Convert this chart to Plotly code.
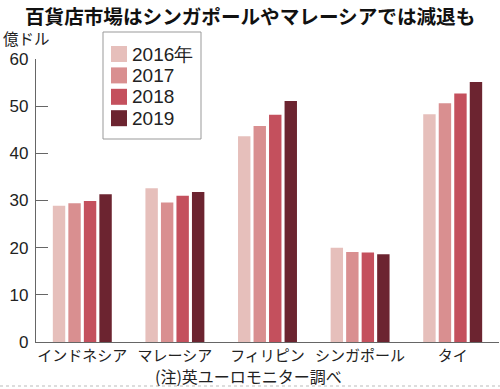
import plotly.graph_objects as go

categories = ["インドネシア", "マレーシア", "フィリピン", "シンガポール", "タイ"]
years = ["2016年", "2017", "2018", "2019"]
v2016 = [28.9, 32.6, 43.6, 20.0, 48.3]
v2017 = [29.4, 29.6, 45.8, 19.1, 50.6]
v2018 = [29.9, 31.0, 48.2, 19.0, 52.7]
v2019 = [31.3, 31.8, 51.1, 18.6, 55.1]
series = [v2016, v2017, v2018, v2019]
colors = ["#e6bfbb", "#d98f90", "#c4505d", "#6c2430"]
y_ticks = [0, 10, 20, 30, 40, 50, 60]

jp = "Noto Sans CJK JP"
num = "Liberation Sans"

W, H = 500, 389
L, R, T, B = 36, 1, 59, 47
pw, ph = W - L - R, H - T - B


def px(x):
    return (x - L) / pw


def py(y):
    return (H - B - y) / ph


fig = go.Figure()
for name, vals, c in zip(years, series, colors):
    fig.add_trace(go.Bar(x=categories, y=vals, name=name,
                         marker=dict(color=c, line=dict(width=0)), showlegend=False,
                         hoverinfo="skip"))

fig.update_layout(
    width=W, height=H,
    margin=dict(l=L, r=R, t=T, b=B, autoexpand=False),
    paper_bgcolor="white", plot_bgcolor="white",
    barmode="group", bargap=0.33, bargroupgap=0.2,
    font=dict(family=jp, color="#222"),
)
fig.update_xaxes(
    showline=True, linecolor="#666", linewidth=1.2,
    ticks="", tickfont=dict(family=jp, size=15, color="#222"),
    range=[-0.5, 4.5], fixedrange=True,
)
fig.update_yaxes(
    range=[0, 60], tickvals=y_ticks, ticktext=[str(t) for t in y_ticks],
    showline=True, linecolor="#666", linewidth=1.2,
    ticks="inside", ticklen=12, tickcolor="#666", tickwidth=1.2,
    showgrid=False, zeroline=False, fixedrange=True,
    tickfont=dict(family=num, size=17, color="#222"),
    ticklabelstandoff=3,
)

# title
fig.add_annotation(text="<b>百貨店市場はシンガポールやマレーシアでは減退も</b>",
                   xref="paper", yref="paper", x=px(250), y=py(15),
                   xanchor="center", yanchor="middle", showarrow=False,
                   font=dict(family=jp, size=19.6, color="#111"))

# legend (box, swatches, labels)
fig.add_shape(type="rect", xref="paper", yref="paper",
              x0=px(103), x1=px(201), y0=py(139), y1=py(32),
              line=dict(color="#999999", width=1), fillcolor="white", layer="above")
for i, (name, c) in enumerate(zip(years, colors)):
    yc = 54 + i * 21.4
    fig.add_shape(type="rect", xref="paper", yref="paper",
                  x0=px(111), x1=px(127), y0=py(yc + 8), y1=py(yc - 8),
                  line=dict(width=0), fillcolor=c, layer="above")
    fig.add_annotation(text=name, xref="paper", yref="paper",
                       x=px(130), y=py(yc), xanchor="left", yanchor="middle",
                       showarrow=False, font=dict(family=num, size=19, color="#222"))

fig.add_annotation(text="億ドル", xref="paper", yref="paper",
                   x=px(1), y=py(38), xanchor="left", yanchor="middle",
                   showarrow=False, font=dict(family=jp, size=15.5, color="#222"))
fig.add_annotation(text="(注)英ユーロモニター調べ", xref="paper", yref="paper",
                   x=px(248), y=py(376), xanchor="center", yanchor="middle",
                   showarrow=False, font=dict(family=jp, size=16, color="#222"))
fig.add_shape(type="line", xref="paper", yref="paper",
              x0=px(0), x1=px(500), y0=py(386), y1=py(386),
              line=dict(color="#bbbbbb", width=1, dash="dot"))

fig.write_html("out.html", config={"displayModeBar": False, "staticPlot": True},
               post_script="document.body.style.margin='0';document.body.style.overflow='hidden';")
